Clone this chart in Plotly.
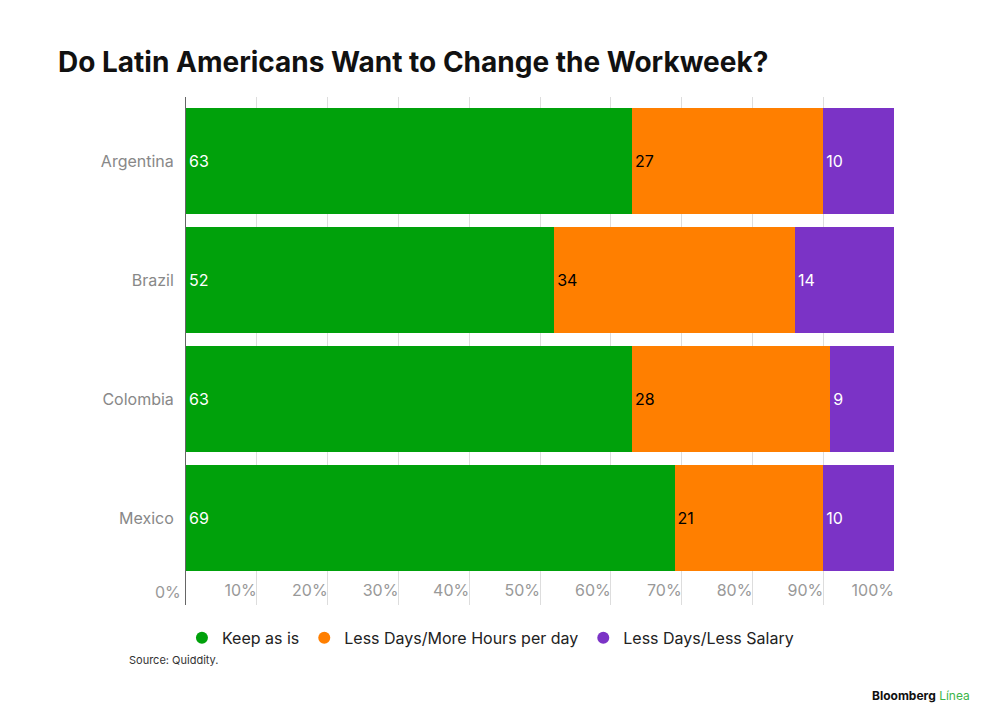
import plotly.graph_objects as go

countries = ["Argentina", "Brazil", "Colombia", "Mexico"]
keep = [63, 52, 63, 69]
more_hours = [27, 34, 28, 21]
less_salary = [10, 14, 9, 10]
tick_vals = [0, 10, 20, 30, 40, 50, 60, 70, 80, 90, 100]
tick_text = [f"{v}%" for v in tick_vals]

series = [
    ("Keep as is", keep, "#00a10b", "white"),
    ("Less Days/More Hours per day", more_hours, "#ff7f00", "black"),
    ("Less Days/Less Salary", less_salary, "#7b33c6", "white"),
]

fig = go.Figure()
for name, vals, col, tcol in series:
    fig.add_trace(go.Bar(
        y=countries, x=vals, name=name, orientation="h",
        marker=dict(color=col, line=dict(width=0)),
        text=[str(v) for v in vals], textposition="inside",
        insidetextanchor="start", textangle=0,
        textfont=dict(color=tcol, size=16, family="Inter"),
        width=0.89, hoverinfo="skip", showlegend=False,
    ))
for name, vals, col, tcol in series:
    fig.add_trace(go.Scatter(
        x=[None], y=[None], mode="markers", name=name,
        marker=dict(color=col, size=16, symbol="circle"), hoverinfo="skip",
    ))

fig.update_layout(
    barmode="stack", width=1000, height=725,
    paper_bgcolor="white", plot_bgcolor="white",
    margin=dict(l=178, r=114, t=89, b=128),
    font=dict(family="Inter", color="#222"),
    uniformtext=dict(minsize=15, mode="show"),
    title=dict(text="<b>Do Latin Americans Want to Change the Workweek?</b>",
               x=50/1000, xanchor="left", y=1-54/725, yanchor="middle",
               font=dict(size=28, color="#111", family="Inter")),
    legend=dict(orientation="h", x=0.43, xanchor="center", y=-0.031, yanchor="top",
                font=dict(size=16, color="#222"), itemsizing="constant",
                traceorder="normal"),
)
fig.update_xaxes(range=[0, 100], tickvals=tick_vals, ticktext=tick_text,
                 ticklabelposition="inside left", showgrid=True,
                 gridcolor="#dddddd", gridwidth=1, zeroline=False,
                 tickfont=dict(size=16, color="#999"), ticks="", showline=False)
fig.update_yaxes(categoryorder="array", categoryarray=countries,
                 range=[3.73, -0.538], showline=True, linecolor="#666",
                 linewidth=1, ticks="", ticklabelstandoff=8,
                 tickfont=dict(size=16, color="#888"), showgrid=False)

# 0% label sits outside the plot area, so place it explicitly
fig.add_annotation(text=tick_text[0], x=tick_vals[0], xref="x", y=1-(584-89)/508,
                   yref="paper", xanchor="right", yanchor="middle", xshift=-3,
                   showarrow=False, font=dict(size=16, color="#999"))
fig.add_annotation(text="Source: Quiddity.", x=(119-178)/708, y=1-(652-89)/508,
                   xref="paper", yref="paper", xanchor="left", yanchor="middle",
                   showarrow=False, font=dict(size=11, color="#333"))
fig.add_annotation(text="<b>Bloomberg</b> <span style='color:#3cb54a'>Línea</span>",
                   x=(964-178)/708, y=1-(687-89)/508, xref="paper", yref="paper",
                   xanchor="right", yanchor="middle", showarrow=False,
                   font=dict(size=12, color="#111"))
fig.write_html("out.html")
